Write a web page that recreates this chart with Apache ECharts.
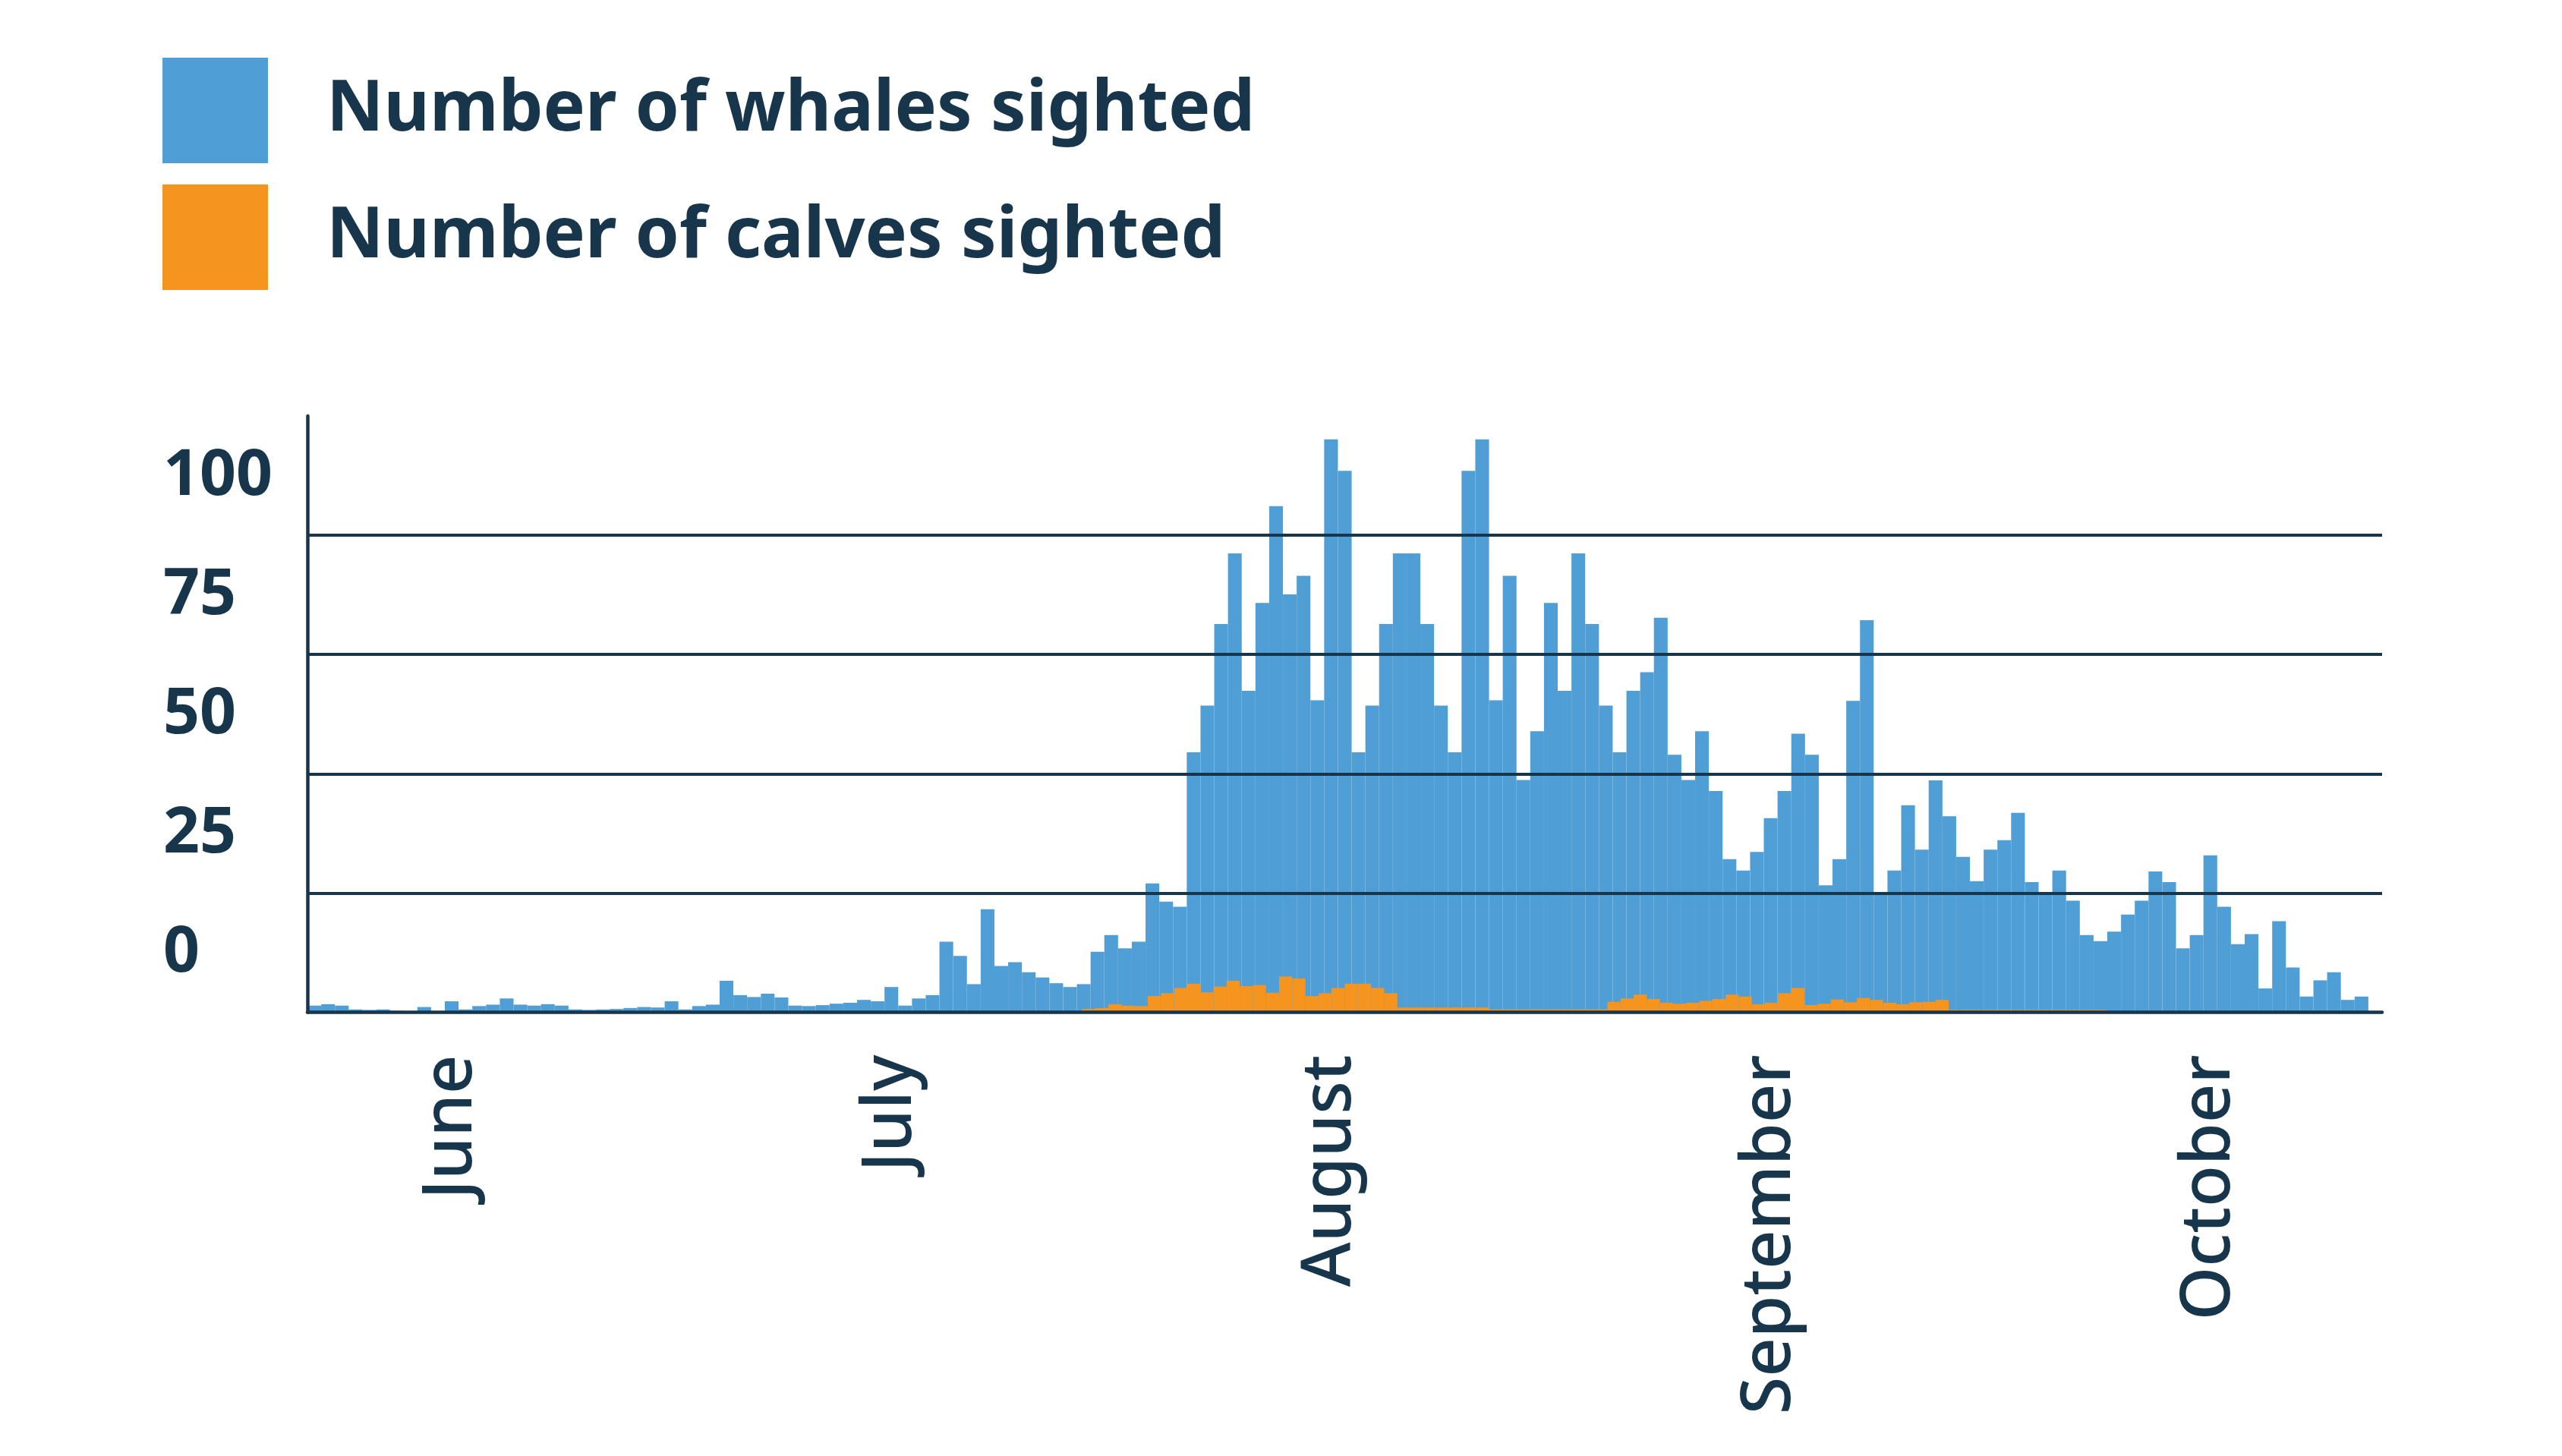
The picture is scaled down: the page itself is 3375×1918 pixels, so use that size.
<!DOCTYPE html>
<html>
<head>
<meta charset="utf-8">
<script src="https://cdn.jsdelivr.net/npm/echarts@6/dist/echarts.min.js"></script>
<style>
html,body{margin:0;padding:0;background:#fff;}
#chart{width:3375px;height:1918px;}
</style>
</head>
<body>
<div id="chart"></div>
<script>
// Daily whale sightings (blue) – one value per day slot
const whales = [
  1.4, 1.7, 1.4, 0.6, 0.5, 0.6, 0.3, 0.2, 1.1, 0.2,
  2.3, 0.6, 1.3, 1.6, 2.9, 1.6, 1.4, 1.7, 1.4, 0.6,
  0.5, 0.6, 0.7, 0.9, 1.1, 1.0, 2.3, 0.6, 1.3, 1.6,
  6.6, 3.6, 3.2, 3.9, 3.1, 1.4, 1.3, 1.5, 1.8, 2.0,
  2.6, 2.3, 5.3, 1.4, 2.9, 3.6, 14.8, 11.8, 5.9, 21.6,
  9.7, 10.5, 8.4, 7.3, 6.1, 5.3, 5.9, 12.7, 16.2, 13.4,
  14.8, 27.0, 23.2, 22.1, 54.5, 64.3, 81.4, 96.2, 67.4, 85.8,
  106.1, 87.6, 91.5, 65.4, 120.1, 113.5, 54.5, 64.3, 81.4, 96.2,
  96.2, 81.4, 64.3, 54.5, 113.5, 120.1, 65.4, 91.5, 48.7, 58.9,
  85.8, 67.4, 96.2, 81.4, 64.3, 54.5, 67.4, 71.3, 82.7, 54.0,
  48.7, 58.9, 46.4, 32.1, 29.7, 33.6, 40.7, 46.4, 58.4, 54.0,
  26.6, 32.1, 65.3, 82.2, 24.7, 29.7, 43.4, 34.1, 48.6, 41.1,
  32.6, 27.5, 34.1, 36.1, 41.8, 27.3, 24.6, 29.7, 23.4, 16.2,
  14.9, 16.9, 20.5, 23.4, 29.5, 27.3, 13.4, 16.2, 32.9, 22.1,
  14.3, 16.4, 5.0, 19.1, 9.4, 3.3, 6.7, 8.4, 2.6, 3.3
];
const whaleSlots = 151;

// Daily calf sightings (orange) – drawn on its own, finer slot grid
const calves = [
  0,0,0,0,0,0,0,0,0,0,
  0,0,0,0,0,0,0,0,0,0,
  0,0,0,0,0,0,0,0,0,0,
  0,0,0,0,0,0,0,0,0,0,
  0,0,0,0,0,0,0,0,0,0,
  0,0,0,0,0,0,0,0,0,0.7,
  0.9, 1.7, 1.4, 1.3, 3.4, 4.0, 5.1, 6.0, 4.2, 5.4,
  6.6, 5.5, 5.7, 4.1, 7.5, 7.1, 3.4, 4.0, 5.1, 6.0,
  6.0, 5.1, 4.0, 1.0, 1.0, 1.0, 1.0, 1.0, 1.0, 1.0,
  0.6, 0.6, 0.6, 0.6, 0.6, 0.6, 0.6, 0.6, 0.6, 2.2,
  2.9, 3.7, 2.8, 2.0, 1.8, 2.0, 2.4, 2.8, 3.7, 3.3,
  1.7, 2.0, 4.0, 5.1, 1.5, 1.8, 2.7, 2.1, 3.0, 2.6,
  2.0, 1.7, 2.1, 2.2, 2.6, 0.5, 0.5, 0.5, 0.5, 0.5,
  0.5, 0.5, 0.5, 0.5, 0.5, 0.5, 0.5, 0,0,0,
  0,0,0,0,0,0,0,0,0,0,
  0,0,0,0,0,0,0,0
];
const calfSlots = 158;

// Month tick labels and the day slot each is placed on
const monthLabels = ['June', 'July', 'August', 'September', 'October'];
const monthSlots = [10, 42, 74, 106, 138];

// Y axis ticks
const yTicks = [0, 25, 50, 75, 100];

const seriesNames = ['Number of whales sighted', 'Number of calves sighted'];

const NAVY = '#17354b';
const BLUE = '#4f9ed6';
const ORANGE = '#f69420';

const whaleCats = Array.from({length: whaleSlots}, (_, i) => String(i));
const calfCats = Array.from({length: calfSlots}, (_, i) => String(i));

const chart = echarts.init(document.getElementById('chart'), null, {renderer: 'canvas'});
chart.setOption({
  animation: false,
  backgroundColor: '#ffffff',
  color: [BLUE, ORANGE],
  legend: {
    orient: 'vertical',
    left: 209,
    top: 71,
    itemWidth: 139,
    itemHeight: 139,
    itemGap: 28,
    icon: 'rect',
    data: seriesNames,
    textStyle: {
      fontFamily: 'Noto Sans',
      fontWeight: 'bold',
      fontSize: 93,
      color: NAVY,
      padding: [0, 0, 0, 72]
    }
  },
  grid: {left: 405, right: 237, top: 548, bottom: 584.5, containLabel: false},
  xAxis: [
    {
      type: 'category',
      data: whaleCats,
      boundaryGap: true,
      axisLine: {show: true, lineStyle: {color: NAVY, width: 4.5}},
      axisTick: {show: false},
      splitLine: {show: false},
      axisLabel: {
        rotate: 90,
        margin: 56,
        fontFamily: 'Noto Sans',
        fontWeight: 500,
        fontSize: 90,
        color: NAVY,
        interval: (idx) => monthSlots.indexOf(idx) >= 0,
        formatter: (val, idx) => {
          const k = monthSlots.indexOf(idx);
          return k >= 0 ? monthLabels[k] : '';
        }
      },
      z: 10
    },
    {
      type: 'category',
      data: calfCats,
      boundaryGap: true,
      show: false
    }
  ],
  yAxis: {
    type: 'value',
    min: 0,
    max: 125,
    interval: 25,
    axisLine: {show: true, lineStyle: {color: NAVY, width: 4.5}},
    axisTick: {show: false},
    splitLine: {show: true, showMinLine: false, showMaxLine: false, lineStyle: {color: NAVY, width: 4}},
    axisLabel: {
      margin: 190,
      align: 'left',
      verticalAlign: 'bottom',
      showMinLabel: true,
      showMaxLabel: false,
      hideOverlap: false,
      fontFamily: 'Noto Sans',
      fontWeight: 'bold',
      fontSize: 84,
      lineHeight: 154,
      color: NAVY,
      formatter: (v) => yTicks.indexOf(v) >= 0 ? String(v) : ''
    },
    z: 10
  },
  series: [
    {
      name: seriesNames[0],
      type: 'bar',
      xAxisIndex: 0,
      data: whales,
      barWidth: '100%',
      barCategoryGap: '0%',
      itemStyle: {color: BLUE},
      z: 1
    },
    {
      name: seriesNames[1],
      type: 'bar',
      xAxisIndex: 1,
      data: calves,
      barWidth: '100%',
      barCategoryGap: '0%',
      itemStyle: {color: ORANGE},
      z: 2
    }
  ]
});
</script>
</body>
</html>
